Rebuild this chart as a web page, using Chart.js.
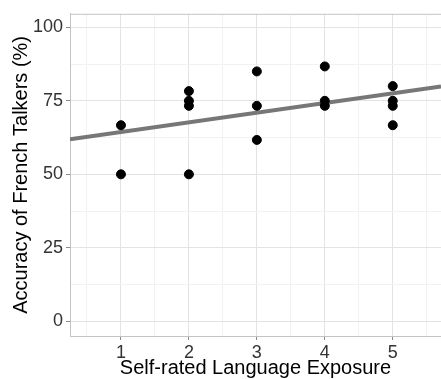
<!DOCTYPE html>
<html>
<head>
<meta charset="utf-8">
<script src="https://cdn.jsdelivr.net/npm/chart.js@4"></script>
<style>
  html, body { margin: 0; padding: 0; background: #fff; }
</style>
</head>
<body>
<canvas id="exposureChart" width="441" height="379"></canvas>
<script>
// self-rated exposure (x) and accuracy (%) for each participant
const exposure = [1, 1, 2, 2, 2, 2, 3, 3, 3, 4, 4, 4, 5, 5, 5, 5];
const accuracy = [66.7, 50, 78.3, 75, 73.3, 50, 85, 73.3, 61.7, 86.7, 75, 73.3, 80, 75, 73.3, 66.7];

// fitted line at the panel edges
const fitX = [0.25, 5.71];
const fitY = [61.9, 79.9];

const xTicks = [0.5, 1, 1.5, 2, 2.5, 3, 3.5, 4, 4.5, 5, 5.5];
const yTicks = [0, 12.5, 25, 37.5, 50, 62.5, 75, 87.5, 100];

const topBorder = {
    id: 'topBorder',
    afterDraw(chart) {
        const { ctx, chartArea } = chart;
        ctx.save();
        ctx.strokeStyle = '#c4c4c4';
        ctx.lineWidth = 1;
        ctx.beginPath();
        ctx.moveTo(chartArea.left, chartArea.top + 0.5);
        ctx.lineTo(chartArea.right, chartArea.top + 0.5);
        ctx.stroke();
        ctx.restore();
    }
};

const ctx = document.getElementById('exposureChart').getContext('2d');
new Chart(ctx, {
    type: 'scatter',
    data: {
        datasets: [{
            label: 'Participants',
            data: exposure.map((x, i) => ({ x: x, y: accuracy[i] })),
            backgroundColor: '#000',
            borderColor: '#000',
            pointRadius: 4.5,
            order: 1
        }, {
            type: 'line',
            label: 'Fit',
            data: fitX.map((x, i) => ({ x: x, y: fitY[i] })),
            borderColor: '#777777',
            borderWidth: 4,
            pointRadius: 0,
            order: 2
        }]
    },
    options: {
        responsive: false,
        animation: false,
        layout: { autoPadding: false, padding: { top: 12, right: 0, left: 0, bottom: 0 } },
        plugins: {
            legend: { display: false },
            tooltip: { enabled: false }
        },
        scales: {
            x: {
                type: 'linear',
                min: 0.25,
                max: 5.71,
                afterFit: s => {
                    s.height = 43;
                    s.paddingLeft = 0;
                    s.paddingRight = 0;
                },
                afterBuildTicks: s => { s.ticks = xTicks.map(v => ({ value: v })); },
                ticks: {
                    autoSkip: false,
                    maxRotation: 0,
                    padding: 2,
                    color: '#333',
                    font: { family: 'Liberation Sans, Arial, sans-serif', size: 18 },
                    callback: v => Number.isInteger(v) ? String(v) : ''
                },
                grid: {
                    color: c => Number.isInteger(c.tick.value) ? '#e3e3e3' : '#f2f2f2',
                    tickColor: c => Number.isInteger(c.tick.value) ? '#8a8a8a' : 'rgba(0,0,0,0)',
                    tickLength: 4
                },
                border: { color: '#c4c4c4' },
                title: {
                    display: true,
                    text: 'Self-rated Language Exposure',
                    color: '#000',
                    padding: { top: 0, bottom: -1 },
                    font: { family: 'Liberation Sans, Arial, sans-serif', size: 20 }
                }
            },
            y: {
                min: -5,
                max: 104.6,
                afterFit: s => { s.width = 70; },
                afterBuildTicks: s => { s.ticks = yTicks.map(v => ({ value: v })); },
                ticks: {
                    autoSkip: false,
                    padding: 3,
                    color: '#333',
                    font: { family: 'Liberation Sans, Arial, sans-serif', size: 18 },
                    callback: v => v % 25 === 0 ? String(v) : ''
                },
                grid: {
                    color: c => c.tick.value % 25 === 0 ? '#e3e3e3' : '#f2f2f2',
                    tickColor: c => c.tick.value % 25 === 0 ? '#8a8a8a' : 'rgba(0,0,0,0)',
                    tickLength: 4
                },
                border: { color: '#c4c4c4' },
                title: {
                    display: true,
                    text: 'Accuracy of French Talkers (%)',
                    color: '#000',
                    padding: { top: 9, bottom: 0 },
                    font: { family: 'Liberation Sans, Arial, sans-serif', size: 20 }
                }
            }
        }
    },
    plugins: [topBorder]
});
</script>
</body>
</html>
